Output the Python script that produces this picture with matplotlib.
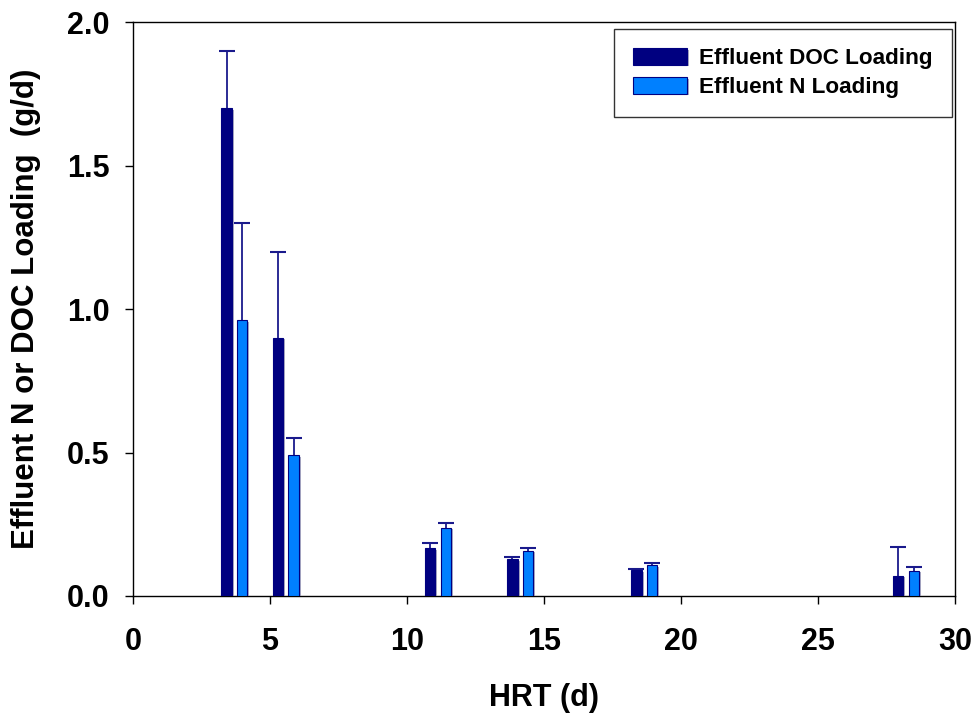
"""
HRT vs effluent DOC / N loading bar chart.
"""

import numpy as np
import matplotlib
matplotlib.use('Agg')
import matplotlib.pyplot as plt
import matplotlib.patheffects as pe
from matplotlib.ticker import FormatStrFormatter

# Data
hrt = [3.7, 5.58, 11.13, 14.13, 18.66, 28.21]
doc_loading = [1.70, 0.90, 0.166, 0.128, 0.090, 0.070]
doc_err = [0.20, 0.30, 0.020, 0.008, 0.004, 0.100]
n_loading = [0.96, 0.49, 0.237, 0.157, 0.107, 0.088]
n_err = [0.34, 0.06, 0.016, 0.009, 0.007, 0.012]

x_ticks = [0, 5, 10, 15, 20, 25, 30]
y_ticks = [0.0, 0.5, 1.0, 1.5, 2.0]

colors = {
    'doc': '#000080',
    'n': '#0080FF',
    'err': '#1a1a8c',
}

plt.rcParams['font.family'] = ['Liberation Sans', 'DejaVu Sans']
plt.rcParams['font.weight'] = 'bold'

fig = plt.figure(figsize=(9.75, 7.13), dpi=100)
ax = fig.add_axes([0.1364, 0.1641, 0.8431, 0.8050])

offset = 0.285
width = 0.38
x = np.array(hrt)
shadow = [pe.SimplePatchShadow(offset=(1.5, -1.0), shadow_rgbFace='#8888aa', alpha=0.7), pe.Normal()]

b1 = ax.bar(x - offset, doc_loading, width=width, color=colors['doc'],
            edgecolor=colors['doc'], linewidth=0.8, label='Effluent DOC Loading', zorder=3)
b2 = ax.bar(x + offset, n_loading, width=width, color=colors['n'],
            edgecolor=colors['doc'], linewidth=0.8, label='Effluent N Loading', zorder=3)
for b in list(b1) + list(b2):
    b.set_path_effects(shadow)


def _upper_errorbar(ax, xs, vals, errs):
    """Error bars going up only, with a cap on the top end."""
    eb = ax.errorbar(xs, vals, yerr=[np.zeros(len(errs)), errs], fmt='none',
                     ecolor=colors['err'], elinewidth=1.3, capsize=5.8, capthick=1.5, zorder=2)
    for cap in eb[1]:
        if np.allclose(cap.get_ydata(), vals):
            cap.set_visible(False)


_upper_errorbar(ax, x - offset, doc_loading, doc_err)
_upper_errorbar(ax, x + offset, n_loading, n_err)

ax.set_xlim(0, 30)
ax.set_ylim(0, 2.0)
ax.set_xticks(x_ticks)
ax.set_yticks(y_ticks)
ax.yaxis.set_major_formatter(FormatStrFormatter('%.1f'))
ax.tick_params(axis='both', direction='out', length=6, width=1.0, labelsize=22)
ax.tick_params(axis='x', pad=16)
ax.tick_params(axis='y', pad=11)
for s in ax.spines.values():
    s.set_linewidth(1.0)

ax.set_xlabel('HRT (d)', fontsize=22, fontweight='bold', va='center')
ax.set_ylabel('Effluent N or DOC Loading  (g/d)', fontsize=22.5, fontweight='bold', va='center')
ax.xaxis.set_label_coords(0.5, -0.178)
ax.yaxis.set_label_coords(-0.13, 0.5)

leg = ax.legend(loc='upper right', bbox_to_anchor=(0.9964, 0.9878), borderaxespad=0,
                fancybox=False, frameon=True, fontsize=16.2, handlelength=2.4,
                handleheight=0.75, handletextpad=0.55, borderpad=0.85, labelspacing=0.35)
leg.get_frame().set_edgecolor('black')
leg.get_frame().set_linewidth(1.0)

plt.savefig('out.png', dpi=100, facecolor='white')
plt.close()
